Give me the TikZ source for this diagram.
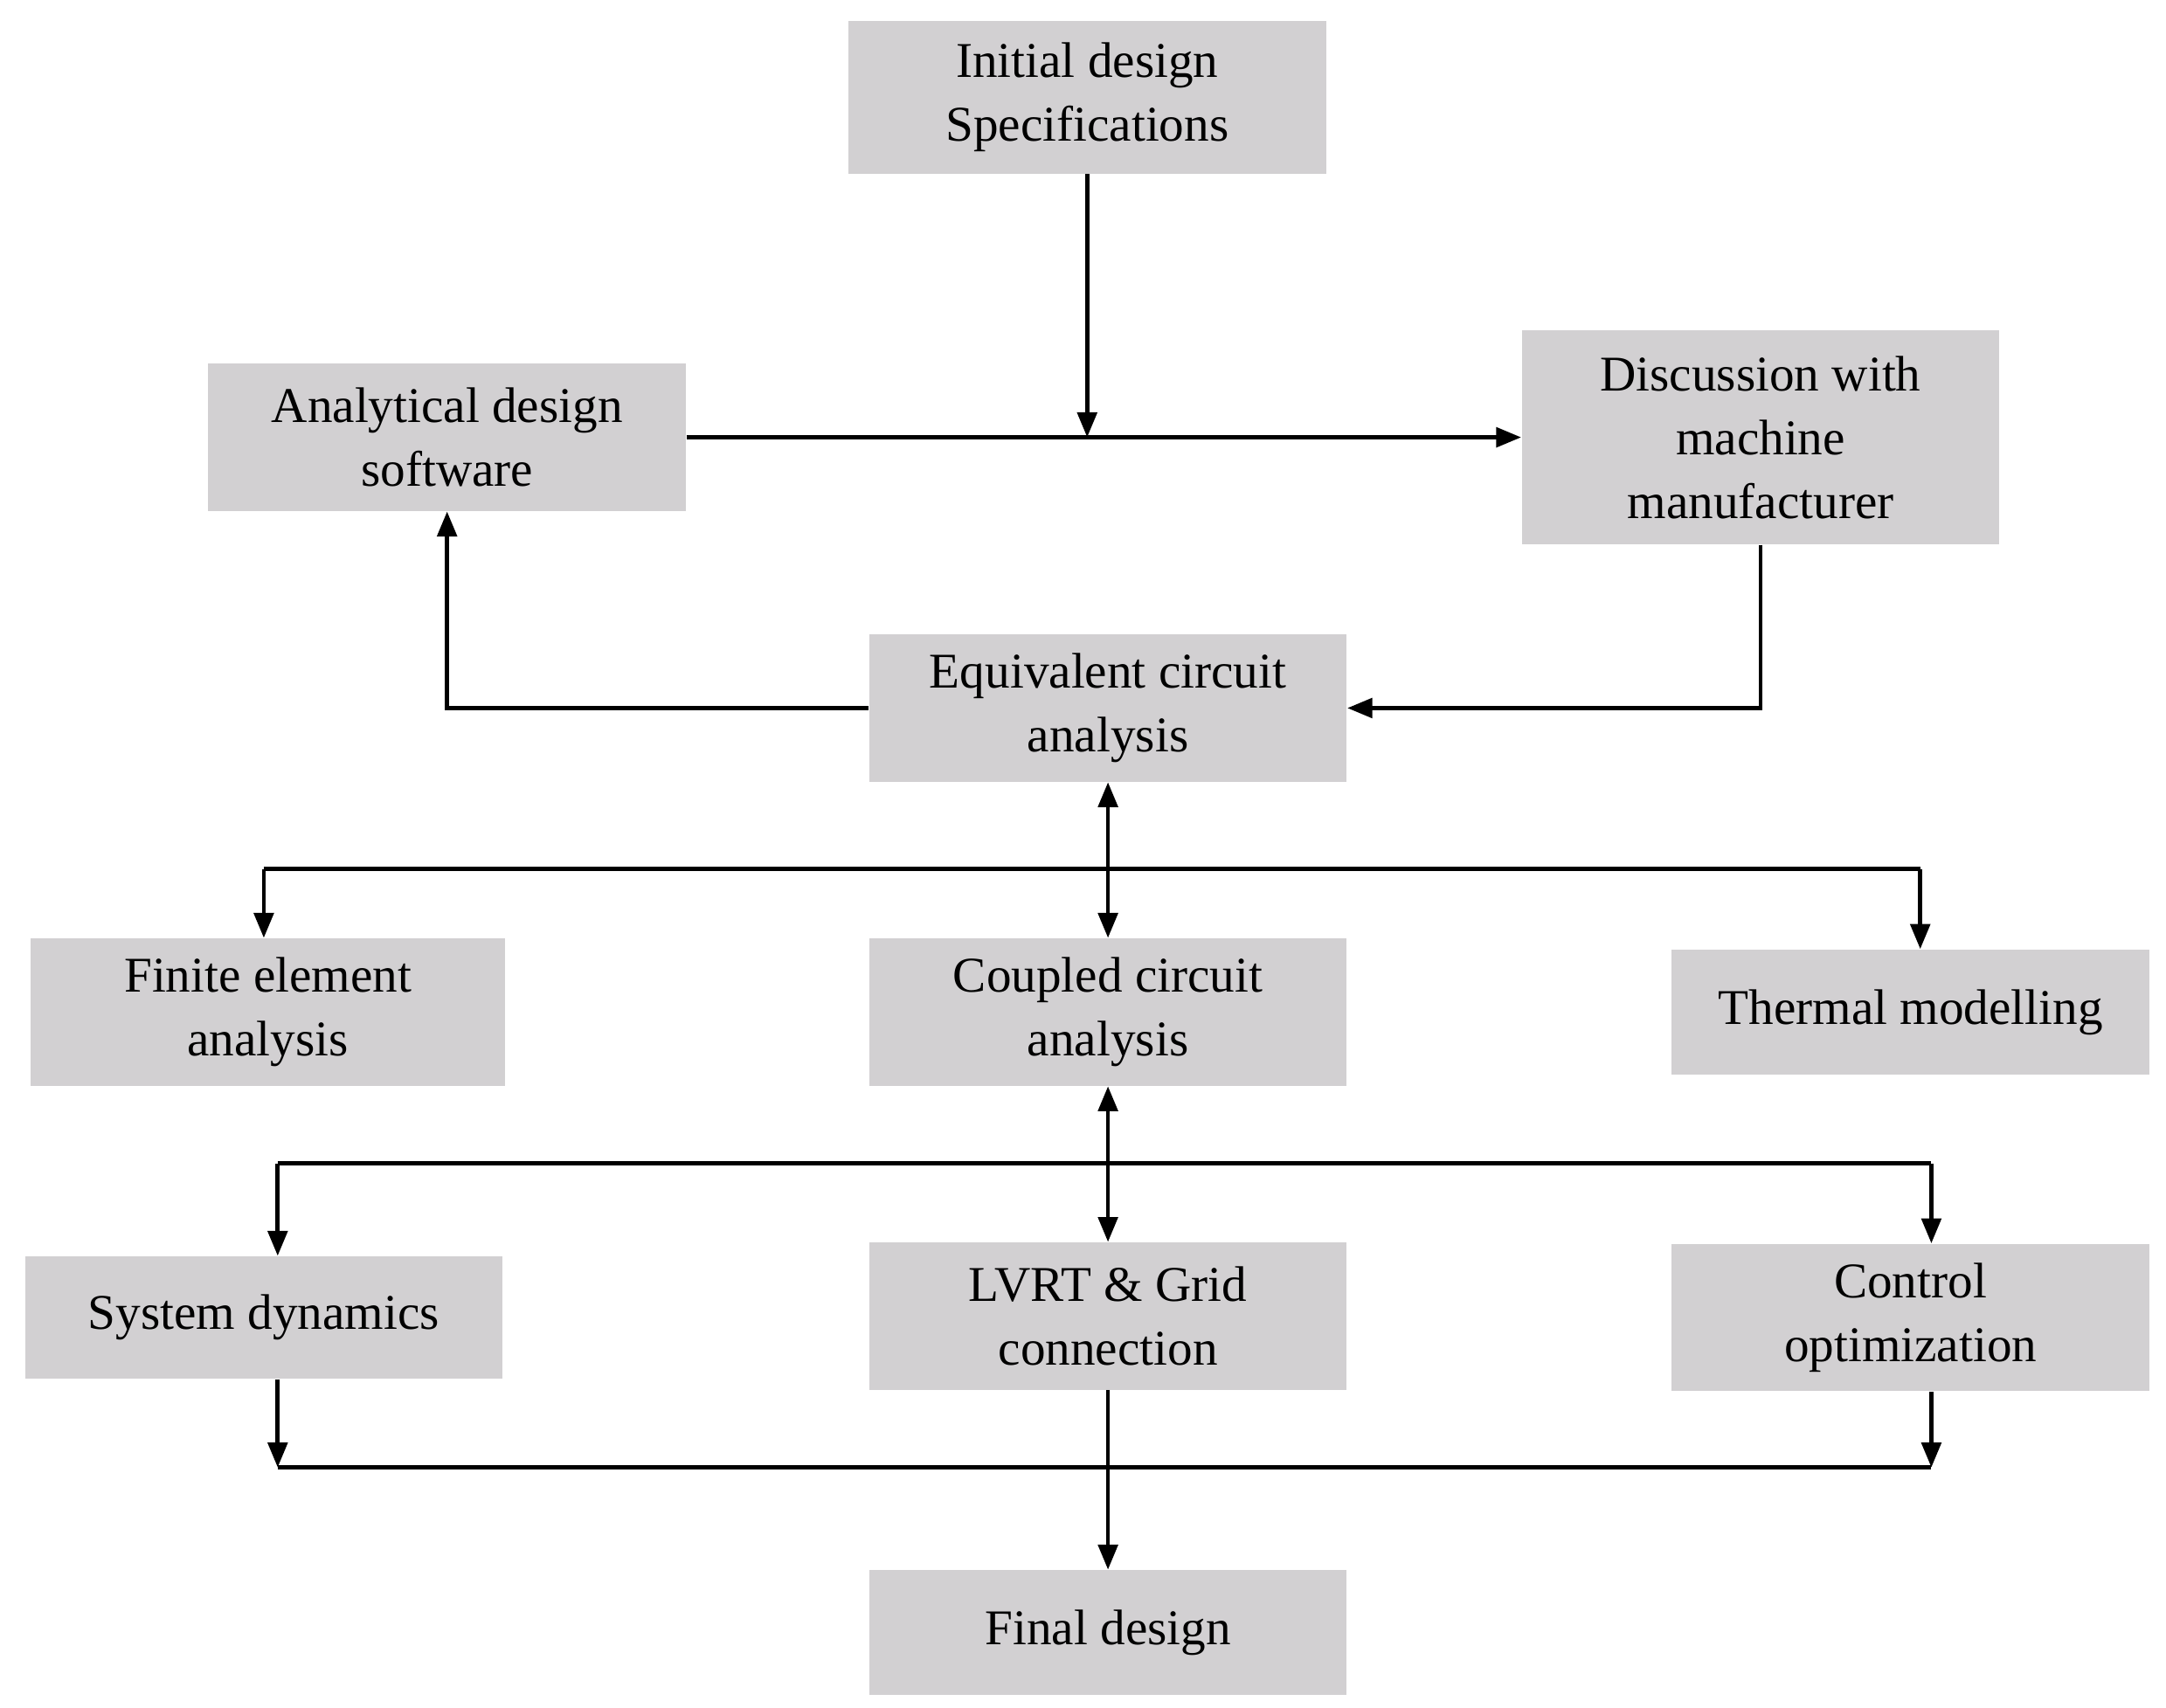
\documentclass[tikz,border=0pt]{standalone}
\usepackage{fontspec}
\setmainfont{Liberation Serif}
\usetikzlibrary{arrows.meta}
\definecolor{boxg}{RGB}{210,208,210}
\begin{document}
\begin{tikzpicture}[x=0.5pt,y=-0.5pt,
  box/.style={fill=boxg,draw=none,inner sep=0pt,align=center,font=\fontsize{18}{23}\selectfont},
  ln/.style={line width=1.5pt},
  ar/.style={ln,-{Triangle[length=9pt,width=7pt]}},
  dar/.style={ln,{Triangle[length=9pt,width=7pt]}-{Triangle[length=9pt,width=7pt]}}]
\useasboundingbox (0,0) rectangle (1560,1230);
\node[box,minimum width=172pt,minimum height=55pt] (init) at (783,70) {Initial design\\Specifications};
\node[box,minimum width=172pt,minimum height=53pt] (ana) at (322,315) {Analytical design\\software};
\node[box,minimum width=172pt,minimum height=77pt] (disc) at (1268,315) {Discussion with\\machine\\manufacturer};
\node[box,minimum width=172pt,minimum height=53pt] (eq) at (798,510) {Equivalent circuit\\analysis};
\node[box,minimum width=171pt,minimum height=53pt] (fea) at (193,729) {Finite element\\analysis};
\node[box,minimum width=172pt,minimum height=53pt] (cc) at (798,729) {Coupled circuit\\analysis};
\node[box,minimum width=172pt,minimum height=45pt] (th) at (1376,729) {Thermal modelling};
\node[box,minimum width=172pt,minimum height=44pt] (sd) at (190,949) {System dynamics};
\node[box,minimum width=172pt,minimum height=53pt] (lv) at (798,948) {LVRT \& Grid\\connection};
\node[box,minimum width=172pt,minimum height=53pt] (co) at (1376,949) {Control\\optimization};
\node[box,minimum width=172pt,minimum height=45pt] (fin) at (798,1176) {Final design};
\coordinate (j1) at (783,315);
\coordinate (l1) at (190,626); \coordinate (r1) at (1383,626);
\coordinate (l2) at (200,838); \coordinate (r2) at (1391,838);
\coordinate (l3) at (200,1057); \coordinate (r3) at (1391,1057);
\draw[ar] (init) -- (j1);
\draw[ar] (ana) -- (disc);
\draw[ar] (disc.south) |- (eq.east);
\draw[ar] (eq.west) -| (ana.south);
\draw[dar] (eq) -- (cc);
\draw[ln] (l1) -- (r1);
\draw[ar] (l1) -- (l1 |- fea.north);
\draw[ar] (r1) -- (r1 |- th.north);
\draw[dar] (cc) -- (lv);
\draw[ln] (l2) -- (r2);
\draw[ar] (l2) -- (l2 |- sd.north);
\draw[ar] (r2) -- (r2 |- co.north);
\draw[ar] (l3 |- sd.south) -- (l3);
\draw[ar] (r3 |- co.south) -- (r3);
\draw[ln] (l3) -- (r3);
\draw[ar] (lv) -- (fin);
\end{tikzpicture}
\end{document}
